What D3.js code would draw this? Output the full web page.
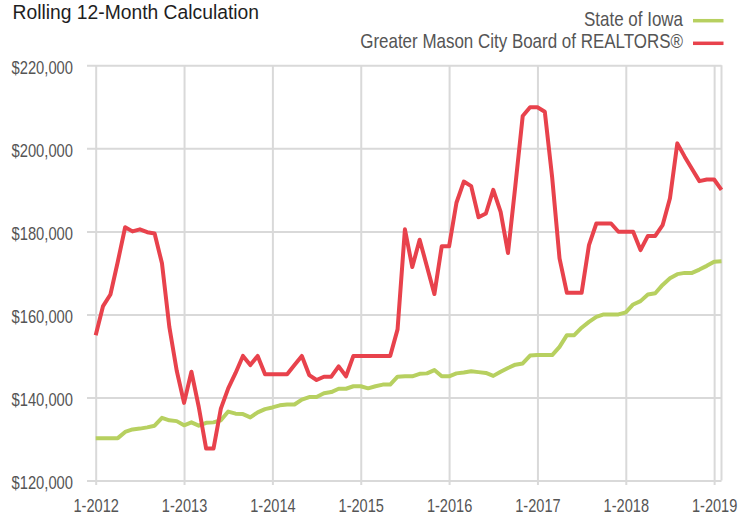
<!DOCTYPE html>
<html>
<head>
<meta charset="utf-8">
<script src="https://cdn.jsdelivr.net/npm/d3@7"></script>
<style>
  html, body { margin: 0; padding: 0; background: #ffffff; }
  svg { display: block; }
</style>
</head>
<body>
<div id="chart"></div>
<script>
// ---------------- DATA ----------------
const title = "Rolling 12-Month Calculation";
const seriesNames = ["State of Iowa", "Greater Mason City Board of REALTORS®"];
const seriesColors = ["#b7d060", "#e8424c"];
const tickLabels = ["1-2012", "1-2013", "1-2014", "1-2015", "1-2016", "1-2017", "1-2018", "1-2019"];
const yTicks = [120000, 140000, 160000, 180000, 200000, 220000];
// monthly values, Jan 2012 .. Feb 2019
const stateOfIowa = [
  130200, 130200, 130200, 130200, 131700, 132300, 132500, 132800, 133200, 135100, 134500, 134300,
  133300, 134000, 133200, 133900, 134000, 134500, 136600, 136100, 136000, 135200, 136400, 137200,
  137600, 138100, 138300, 138300, 139500, 140100, 140100, 141000, 141300, 142100, 142100, 142700,
  142700, 142200, 142700, 143100, 143100, 145000, 145100, 145100, 145700, 145800, 146600, 145100,
  145100, 145800, 146000, 146300, 146100, 145900, 145200, 146200, 147100, 147900, 148200, 150100,
  150200, 150200, 150200, 152200, 155000, 155000, 156800, 158200, 159400, 160000, 160000, 160000,
  160500, 162400, 163200, 164800, 165100, 167100, 168700, 169700, 170000, 170000, 170800, 171700,
  172700, 172800
];
const masonCity = [
  155000, 162000, 164800, 172700, 181000, 180000, 180500, 179800, 179500, 172300, 157000, 146500,
  138700, 146200, 137700, 127700, 127700, 137300, 142200, 145900, 150000, 147800, 150000, 145600,
  145600, 145600, 145600, 147800, 150000, 145400, 144200, 145000, 145000, 147500, 145100, 150000,
  150000, 150000, 150000, 150000, 150000, 156400, 180500, 171400, 178000, 171500, 164900, 176400,
  176400, 186900, 192000, 190900, 183400, 184300, 190000, 184700, 174800, 191000, 207800, 209900,
  209900, 208800, 193000, 173500, 165200, 165200, 165200, 176700, 181900, 181900, 181900, 179900,
  179900, 179900, 175500, 178900, 178900, 181500, 188000, 201200, 198000, 195000, 192100, 192500,
  192500, 190000
];

// ---------------- FONT DETECTION ----------------
function fontAvailable(name) {
  const c = document.createElement("canvas").getContext("2d");
  const s = "Greater Mason City 1-2012 $220,000";
  c.font = "40px monospace"; const a = c.measureText(s).width;
  c.font = `40px "${name}", monospace`; const b = c.measureText(s).width;
  return Math.abs(a - b) > 0.5;
}
const hasNarrow = fontAvailable("Liberation Sans Narrow");
const narrowFamily = hasNarrow ? '"Liberation Sans Narrow", "Liberation Sans", sans-serif' : '"Liberation Sans", Arial, sans-serif';
const narrowScale = hasNarrow ? 1 : 0.82;

// ---------------- LAYOUT ----------------
const W = 753, H = 515;
const L = 95.7, R = 721.5, T = 65.3, B = 480.5;

const svg = d3.select("#chart").append("svg").attr("width", W).attr("height", H);

const n = masonCity.length;
const x = d3.scaleLinear().domain([0, n - 1]).range([L, R]);
const y = d3.scaleLinear().domain([120000, 220000]).range([B, T]);

const gridColor = "#d9d9d9";
const labelColor = "#555555";

function narrowize(sel) {
  sel.each(function () {
    const t = d3.select(this);
    const tx = +t.attr("x") || 0, ty = +t.attr("y") || 0;
    t.attr("x", 0).attr("y", 0)
      .attr("transform", `translate(${tx},${ty}) scale(${narrowScale},1)`);
  });
}

// Y axis with gridlines (drawn from right edge to the left tick end)
const yAxis = d3.axisLeft(y)
  .tickValues(yTicks)
  .tickFormat(d3.format("$,"))
  .tickSize(R - 87)
  .tickPadding(14);
const gy = svg.append("g").attr("transform", `translate(${R},0)`).call(yAxis);
gy.select(".domain").remove();
gy.selectAll(".tick line").attr("stroke", gridColor).attr("stroke-width", 2);
gy.selectAll(".tick text")
  .attr("fill", labelColor)
  .attr("dy", null)
  .attr("y", 8)
  .style("font-family", narrowFamily)
  .style("font-size", "18px");
if (!hasNarrow) narrowize(gy.selectAll(".tick text"));

// X axis with vertical gridlines
const xTickIdx = tickLabels.map((_, i) => i * 12);
const xAxis = d3.axisBottom(x)
  .tickValues(xTickIdx)
  .tickFormat((d, i) => tickLabels[i])
  .tickSize(485 - T)
  .tickPadding(10);
const gx = svg.append("g").attr("transform", `translate(0,${T})`).call(xAxis);
gx.select(".domain").remove();
gx.selectAll(".tick line").attr("stroke", gridColor).attr("stroke-width", 2);
gx.selectAll(".tick text")
  .attr("fill", labelColor)
  .attr("dy", null)
  .attr("y", 511.5 - T)
  .style("font-family", narrowFamily)
  .style("font-size", "17.8px");
if (!hasNarrow) narrowize(gx.selectAll(".tick text"));

// right border
svg.append("line")
  .attr("x1", x(n - 1)).attr("x2", x(n - 1))
  .attr("y1", y(220000)).attr("y2", y(120000))
  .attr("stroke", gridColor).attr("stroke-width", 2);

// Lines
const line = d3.line().x((d, i) => x(i)).y(d => y(d));
[stateOfIowa, masonCity].forEach((data, k) => {
  svg.append("path")
    .datum(data)
    .attr("d", line)
    .attr("fill", "none")
    .attr("stroke", seriesColors[k])
    .attr("stroke-width", 4)
    .attr("stroke-linejoin", "round")
    .attr("stroke-linecap", "butt");
});

// Title
svg.append("text")
  .attr("x", 12.5).attr("y", 19)
  .style("font-family", '"Liberation Sans", Arial, sans-serif')
  .style("font-size", "19.3px")
  .attr("fill", "#1e1e1e")
  .text(title);

// Legend
const legendY = [26, 47.5];
const legendLineY = [20.7, 43.3];
seriesNames.forEach((name, k) => {
  const t = svg.append("text")
    .attr("x", 683).attr("y", legendY[k])
    .attr("text-anchor", "end")
    .style("font-family", narrowFamily)
    .style("font-size", "20.7px")
    .attr("fill", labelColor)
    .text(name);
  if (!hasNarrow) narrowize(t);
  svg.append("line")
    .attr("x1", 693).attr("x2", 723.5)
    .attr("y1", legendLineY[k]).attr("y2", legendLineY[k])
    .attr("stroke", seriesColors[k]).attr("stroke-width", 3.5);
});
</script>
</body>
</html>
